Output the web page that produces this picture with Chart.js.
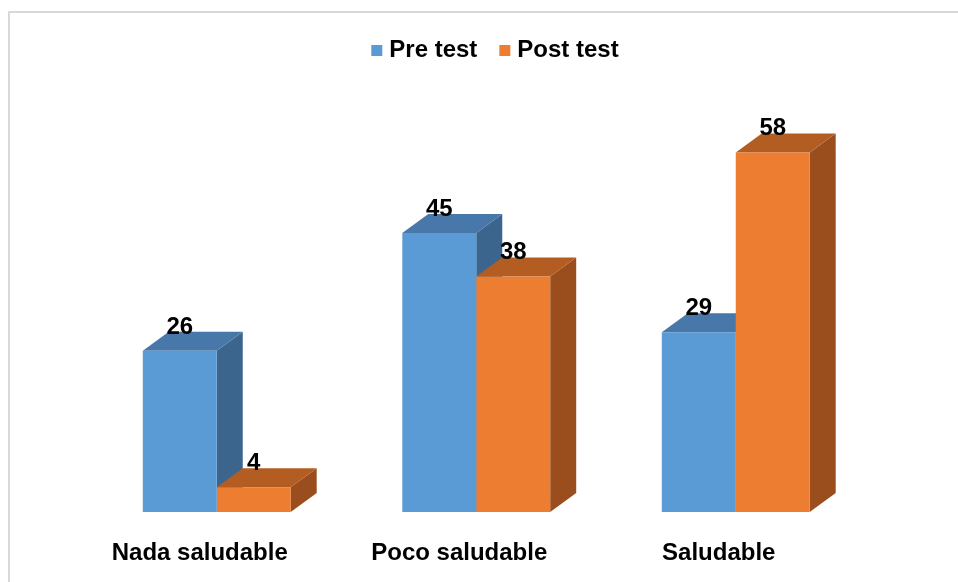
<!DOCTYPE html>
<html>
<head>
<meta charset="utf-8">
<script src="https://cdn.jsdelivr.net/npm/chart.js@4.4.1/dist/chart.umd.min.js"></script>
<style>
  html, body { margin: 0; padding: 0; background: #fff; overflow: hidden; }
  #wrap { position: relative; width: 958px; height: 582px; }
  #frame { position: absolute; left: 8px; top: 11px; width: 1000px; height: 600px;
           border-left: 2px solid #d9d9d9; border-top: 2px solid #d9d9d9; }
  canvas { position: absolute; left: 0; top: 0; }
</style>
</head>
<body>
<div id="wrap">
  <div id="frame"></div>
  <canvas id="c" width="958" height="582"></canvas>
</div>
<script>
// Categories and series
const categories = ['Nada saludable', 'Poco saludable', 'Saludable'];
const seriesNames = ['Pre test', 'Post test'];
const preTest = [26, 45, 29];
const postTest = [4, 38, 58];

// Face colours: front, top, side
const frontColors = ['#5B9BD5', '#ED7D31'];
const topColors = ['#4878A9', '#B45D23'];
const sideColors = ['#3C658E', '#9A4E1D'];

const FONT = '"Liberation Sans", Arial, sans-serif';
const DEPTH_X = 26;
const DEPTH_Y = -19;

function poly(ctx, pts, color) {
  ctx.beginPath();
  ctx.moveTo(pts[0][0], pts[0][1]);
  for (let k = 1; k < pts.length; k++) ctx.lineTo(pts[k][0], pts[k][1]);
  ctx.closePath();
  ctx.fillStyle = color;
  ctx.fill();
}

// Extruded top and side faces behind each bar's front face
const depthFaces = {
  id: 'depthFaces',
  beforeDatasetsDraw(chart) {
    const ctx = chart.ctx;
    ctx.save();
    const n = chart.data.labels.length;
    for (let i = 0; i < n; i++) {
      chart.data.datasets.forEach((ds, d) => {
        const bar = chart.getDatasetMeta(d).data[i];
        const l = bar.x - bar.width / 2, r = bar.x + bar.width / 2;
        const t = bar.y, b = bar.base;
        poly(ctx, [[r, t], [r + DEPTH_X, t + DEPTH_Y], [r + DEPTH_X, b + DEPTH_Y], [r, b]], sideColors[d]);
        poly(ctx, [[l, t], [r, t], [r + DEPTH_X, t + DEPTH_Y], [l + DEPTH_X, t + DEPTH_Y]], topColors[d]);
      });
    }
    ctx.restore();
  },
  afterDatasetsDraw(chart) {
    const ctx = chart.ctx;
    ctx.save();
    ctx.font = 'bold 24px ' + FONT;
    ctx.fillStyle = '#000';
    ctx.textAlign = 'center';
    ctx.textBaseline = 'alphabetic';
    chart.data.datasets.forEach((ds, d) => {
      chart.getDatasetMeta(d).data.forEach((bar, i) => {
        ctx.fillText(String(ds.data[i]), bar.x, bar.y - 17);
      });
    });
    ctx.restore();
  }
};

// Legend row centred above the plot
const topLegend = {
  id: 'topLegend',
  afterDraw(chart) {
    const ctx = chart.ctx;
    ctx.save();
    ctx.font = 'bold 24px ' + FONT;
    ctx.textBaseline = 'alphabetic';
    ctx.textAlign = 'left';
    const box = 11, gap = 7, itemGap = 22;
    const items = chart.data.datasets.map((ds, d) => ({
      text: ds.label, color: frontColors[d], w: ctx.measureText(ds.label).width
    }));
    const total = items.reduce((s, it) => s + box + gap + it.w, 0) + itemGap * (items.length - 1);
    let x = 495 - total / 2;
    items.forEach(it => {
      ctx.fillStyle = it.color;
      ctx.fillRect(x, 45, box, box);
      ctx.fillStyle = '#000';
      ctx.fillText(it.text, x + box + gap, 57);
      x += box + gap + it.w + itemGap;
    });
    ctx.restore();
  }
};

new Chart(document.getElementById('c'), {
  type: 'bar',
  data: {
    labels: categories,
    datasets: [
      { label: seriesNames[0], data: preTest, backgroundColor: frontColors[0], borderWidth: 0 },
      { label: seriesNames[1], data: postTest, backgroundColor: frontColors[1], borderWidth: 0 }
    ]
  },
  options: {
    responsive: false,
    devicePixelRatio: 1,
    animation: false,
    layout: { padding: { left: 87, right: 92.5, top: 78, bottom: 0 } },
    datasets: { bar: { categoryPercentage: 0.57, barPercentage: 1.0 } },
    plugins: { legend: { display: false }, tooltip: { enabled: false } },
    scales: {
      x: {
        grid: { display: false, drawTicks: false },
        border: { display: false },
        afterFit(scale) { scale.height = 70; },
        ticks: {
          color: '#000',
          font: { family: FONT, size: 24, weight: 'bold' },
          padding: 27,
          labelOffset: -17,
          maxRotation: 0,
          autoSkip: false
        }
      },
      y: { display: false, min: 0, max: 70 }
    }
  },
  plugins: [depthFaces, topLegend]
});
</script>
</body>
</html>
